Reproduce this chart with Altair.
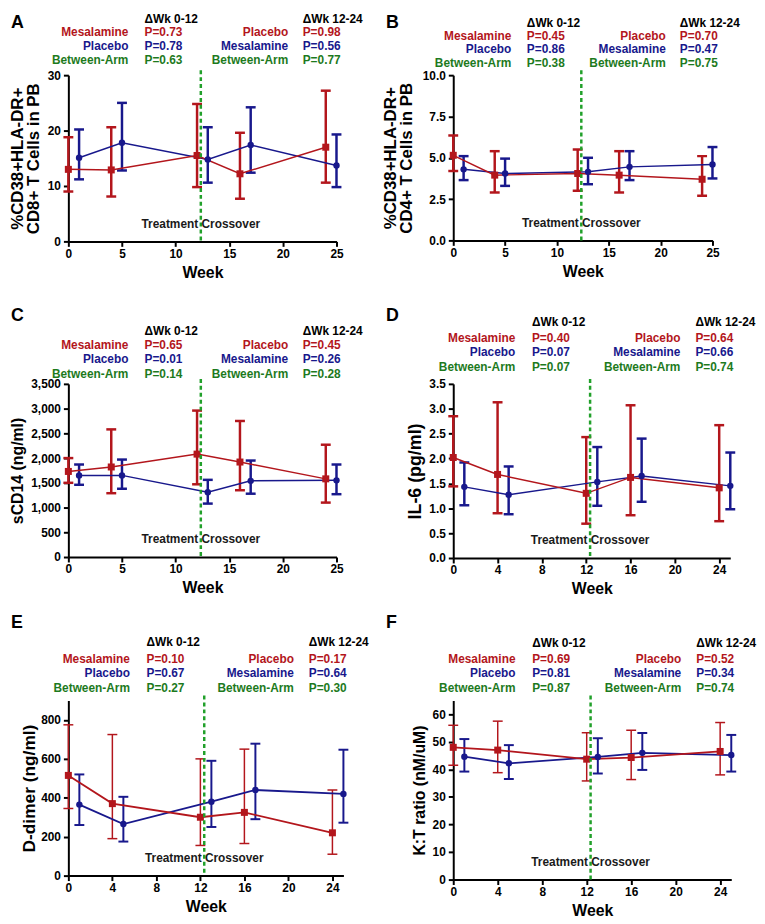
import altair as alt
import pandas as pd

FONT = "Liberation Sans"
RED = "#b3161c"
BLUE = "#18188c"
GREEN_TXT = "#1d7a1d"
GREEN_LINE = "#21a02a"

MES_WEEKS = [0, 4, 12, 16, 24]
PLA_WEEKS = [1, 5, 13, 17, 25]
LEFT_LABELS = ["Mesalamine", "Placebo", "Between-Arm"]
RIGHT_LABELS = ["Placebo", "Mesalamine", "Between-Arm"]
HEADERS = ["\u0394Wk 0-12", "\u0394Wk 12-24"]
X_TICKS_5 = [0, 5, 10, 15, 20, 25]
X_TICKS_4 = [0, 4, 8, 12, 16, 20, 24]

# Panel A
A_MES = [13.0, 12.9, 15.5, 12.2, 17.0]
A_MES_LO = [9.0, 8.1, 9.8, 7.7, 10.6]
A_MES_HI = [18.8, 20.6, 24.8, 19.6, 27.2]
A_PLA = [15.1, 17.8, 14.8, 17.4, 13.7]
A_PLA_LO = [11.2, 12.8, 10.6, 12.4, 9.8]
A_PLA_HI = [20.2, 25.0, 20.6, 24.2, 19.3]
A_P = ["P=0.73", "P=0.78", "P=0.63", "P=0.98", "P=0.56", "P=0.77"]
A_YTICKS = [0, 10, 20, 30]

# Panel B
B_MES = [5.15, 3.95, 4.05, 3.95, 3.7]
B_MES_LO = [4.2, 2.9, 3.0, 2.9, 2.7]
B_MES_HI = [6.35, 5.4, 5.5, 5.4, 5.1]
B_PLA = [4.3, 4.05, 4.15, 4.45, 4.6]
B_PLA_LO = [3.65, 3.3, 3.4, 3.65, 3.75]
B_PLA_HI = [5.1, 4.95, 5.0, 5.4, 5.65]
B_P = ["P=0.45", "P=0.86", "P=0.38", "P=0.70", "P=0.47", "P=0.75"]
B_YTICKS = [0, 2.5, 5.0, 7.5, 10.0]

# Panel C
C_MES = [1730, 1820, 2080, 1920, 1580]
C_MES_LO = [1500, 1290, 1470, 1350, 1100]
C_MES_HI = [2000, 2580, 2960, 2750, 2270]
C_PLA = [1650, 1650, 1310, 1540, 1550]
C_PLA_LO = [1460, 1380, 1080, 1280, 1270]
C_PLA_HI = [1870, 1970, 1560, 1950, 1870]
C_P = ["P=0.65", "P=0.01", "P=0.14", "P=0.45", "P=0.26", "P=0.28"]
C_YTICKS = [0, 500, 1000, 1500, 2000, 2500, 3000, 3500]

# Panel D
D_MES = [2.02, 1.68, 1.30, 1.62, 1.41]
D_MES_LO = [1.44, 0.90, 0.69, 0.86, 0.74]
D_MES_HI = [2.85, 3.13, 2.43, 3.07, 2.67]
D_PLA = [1.43, 1.27, 1.53, 1.65, 1.45]
D_PLA_LO = [1.06, 0.88, 1.05, 1.13, 0.98]
D_PLA_HI = [1.92, 1.84, 2.23, 2.40, 2.12]
D_P = ["P=0.40", "P=0.07", "P=0.07", "P=0.64", "P=0.66", "P=0.74"]
D_YTICKS = [0, 0.5, 1.0, 1.5, 2.0, 2.5, 3.0, 3.5]

# Panel E
E_MES = [515, 370, 300, 325, 220]
E_MES_LO = [345, 190, 155, 165, 110]
E_MES_HI = [775, 725, 600, 650, 440]
E_PLA = [365, 265, 380, 440, 420]
E_PLA_LO = [260, 175, 250, 290, 272]
E_PLA_HI = [520, 405, 590, 678, 647]
E_P = ["P=0.10", "P=0.67", "P=0.27", "P=0.17", "P=0.64", "P=0.30"]
E_YTICKS = [0, 200, 400, 600, 800]

# Panel F
F_MES = [48.0, 47.0, 43.7, 44.3, 46.5]
F_MES_LO = [41.5, 38.8, 35.8, 36.3, 38.0]
F_MES_HI = [56.0, 57.5, 53.3, 54.2, 57.0]
F_PLA = [44.6, 42.2, 44.5, 46.0, 45.2]
F_PLA_LO = [39.2, 36.5, 38.5, 39.8, 39.2]
F_PLA_HI = [51.0, 48.8, 51.3, 53.2, 52.5]
F_P = ["P=0.69", "P=0.81", "P=0.87", "P=0.52", "P=0.34", "P=0.74"]
F_YTICKS = [0, 10, 20, 30, 40, 50, 60]

CROSSOVER = 12.35


def panel(letter, mes, mes_lo, mes_hi, pla, pla_lo, pla_hi, pvals,
          ytitle, ydomain, yticks, yfmt, xticks, w, h, lay):
    xs = alt.Scale(domain=[0, 25], nice=False, zero=False)
    ys = alt.Scale(domain=ydomain, nice=False, zero=False)
    xax = alt.Axis(values=xticks, title="Week", titleFontSize=16,
                   titlePadding=5, labelFlush=False, labelPadding=2)
    yax = alt.Axis(values=yticks, format=yfmt, title=ytitle,
                   titleFontSize=lay["tfs"], titlePadding=lay["tp"],
                   titleLineHeight=16)
    X = alt.X("week:Q", scale=xs, axis=xax)

    def Y(f):
        return alt.Y(f, type="quantitative", scale=ys, axis=yax)

    layers = []
    arms = [
        (pla, pla_lo, pla_hi, PLA_WEEKS, BLUE, "circle", lay["ewb"], 42),
        (mes, mes_lo, mes_hi, MES_WEEKS, RED, "square", lay["ewr"], 50),
    ]
    line_layers = []
    point_layers = []
    for vals, lo, hi, wk, col, shp, ew, sz in arms:
        df = pd.DataFrame({"week": wk, "mean": vals, "lo": lo, "hi": hi})
        base = alt.Chart(df).encode(x=X)
        layers.append(base.mark_rule(color=col, strokeWidth=ew).encode(
            y=Y("lo"), y2="hi"))
        layers.append(base.mark_tick(color=col, orient="horizontal", size=10,
                                     thickness=ew, opacity=1).encode(y=Y("lo")))
        layers.append(base.mark_tick(color=col, orient="horizontal", size=10,
                                     thickness=ew, opacity=1).encode(y=Y("hi")))
        line_layers.append(base.mark_line(color=col, strokeWidth=lay["lw"]).encode(
            y=Y("mean")))
        point_layers.append(base.mark_point(color=col, shape=shp, filled=True,
                                            size=sz, opacity=1).encode(y=Y("mean")))
    layers += line_layers + point_layers

    cross = pd.DataFrame({"week": [CROSSOVER], "t": ["Treatment Crossover"]})
    layers.append(alt.Chart(cross).mark_rule(
        color=GREEN_LINE, strokeWidth=2.5, strokeDash=[4, 3]).encode(
        x=X, y=alt.value(-5), y2=alt.value(h)))
    layers.append(alt.Chart(cross).mark_text(
        font=FONT, fontSize=12, fontWeight="bold", color="#1a1a1a",
        align="center", baseline="alphabetic").encode(
        x=X, y=alt.value(h - 14), text="t:N"))

    ys_rows = lay["rows"]
    cols = [RED, BLUE, GREEN_TXT]
    for i in range(3):
        lab = pd.DataFrame({"week": [5.6, 20.5],
                            "t": [LEFT_LABELS[i], RIGHT_LABELS[i]]})
        layers.append(alt.Chart(lab).mark_text(
            font=FONT, fontSize=12, fontWeight="bold", color=cols[i],
            align="right", baseline="alphabetic").encode(
            x=X, y=alt.value(ys_rows[i + 1]), text="t:N"))
        pv = pd.DataFrame({"week": [7.1, 21.85], "t": [pvals[i], pvals[i + 3]]})
        layers.append(alt.Chart(pv).mark_text(
            font=FONT, fontSize=12, fontWeight="bold", color=cols[i],
            align="left", baseline="alphabetic").encode(
            x=X, y=alt.value(ys_rows[i + 1]), text="t:N"))
    hd = pd.DataFrame({"week": [7.1, 21.85], "t": HEADERS})
    layers.append(alt.Chart(hd).mark_text(
        font=FONT, fontSize=12, fontWeight="bold", color="black",
        align="left", baseline="alphabetic").encode(
        x=X, y=alt.value(ys_rows[0]), text="t:N"))

    lt = pd.DataFrame({"t": [letter]})
    layers.append(alt.Chart(lt).mark_text(
        font=FONT, fontSize=18, fontWeight="bold", color="black",
        align="left", baseline="alphabetic").encode(
        x=alt.value(lay["lx"]), y=alt.value(lay["ly"]), text="t:N"))

    return alt.layer(*layers).properties(width=w, height=h)


pA = panel("A", A_MES, A_MES_LO, A_MES_HI, A_PLA, A_PLA_LO, A_PLA_HI, A_P,
           ["%CD38+HLA-DR+", "CD8+ T Cells in PB"], [0, 30], A_YTICKS, "d",
           X_TICKS_5, 271, 168,
           dict(tfs=17, tp=5, ewr=2.5, ewb=2.5, lw=1.5,
                rows=[-53, -40, -25, -11], lx=-58, ly=-48))
pB = panel("B", B_MES, B_MES_LO, B_MES_HI, B_PLA, B_PLA_LO, B_PLA_HI, B_P,
           ["%CD38+HLA-DR+", "CD4+ T Cells in PB"], [0, 10], B_YTICKS, ".1f",
           X_TICKS_5, 262, 167,
           dict(tfs=17, tp=7, ewr=2.5, ewb=2.5, lw=1.5,
                rows=[-49, -36, -22, -8], lx=-68, ly=-48))
pC = panel("C", C_MES, C_MES_LO, C_MES_HI, C_PLA, C_PLA_LO, C_PLA_HI, C_P,
           "sCD14 (ng/ml)", [0, 3500], C_YTICKS, ",d",
           X_TICKS_5, 271, 175,
           dict(tfs=16, tp=5, ewr=2.5, ewb=2.5, lw=1.5,
                rows=[-49, -35, -21, -6], lx=-58, ly=-64))
pD = panel("D", D_MES, D_MES_LO, D_MES_HI, D_PLA, D_PLA_LO, D_PLA_HI, D_P,
           "IL-6 (pg/ml)", [0, 3.5], D_YTICKS, ".1f",
           X_TICKS_4, 280, 176,
           dict(tfs=18, tp=4, ewr=2.5, ewb=2.5, lw=1.5,
                rows=[-58, -42, -28, -13], lx=-68, ly=-64))
pE = panel("E", E_MES, E_MES_LO, E_MES_HI, E_PLA, E_PLA_LO, E_PLA_HI, E_P,
           "D-dimer (ng/ml)", [0, 900], E_YTICKS, "d",
           X_TICKS_4, 278, 177,
           dict(tfs=17.5, tp=2, ewr=1.5, ewb=2, lw=1.8,
                rows=[-55, -38, -24, -9], lx=-58, ly=-73))
pF = panel("F", F_MES, F_MES_LO, F_MES_HI, F_PLA, F_PLA_LO, F_PLA_HI, F_P,
           "K:T ratio  (nM/uM)", [0, 65], F_YTICKS, "d",
           X_TICKS_4, 281, 181,
           dict(tfs=16, tp=5, ewr=1.5, ewb=2, lw=1.8,
                rows=[-54, -38, -24, -9], lx=-68, ly=-73))

chart = alt.concat(pA, pB, pC, pD, pE, pF, columns=2,
                   spacing={"row": 144, "column": 111},
                   bounds="flush", align="each").properties(
    padding=0
).configure_view(stroke=None).configure_axis(
    domainColor="black", domainWidth=2, tickColor="black", tickWidth=2,
    tickSize=5, labelColor="black", labelFont=FONT, labelFontSize=12,
    labelFontWeight="bold", titleFont=FONT, titleFontWeight="bold",
    titleColor="black", grid=False, labelPadding=3
)

chart.save("out.html", embed_options={"renderer": "svg", "actions": False})
